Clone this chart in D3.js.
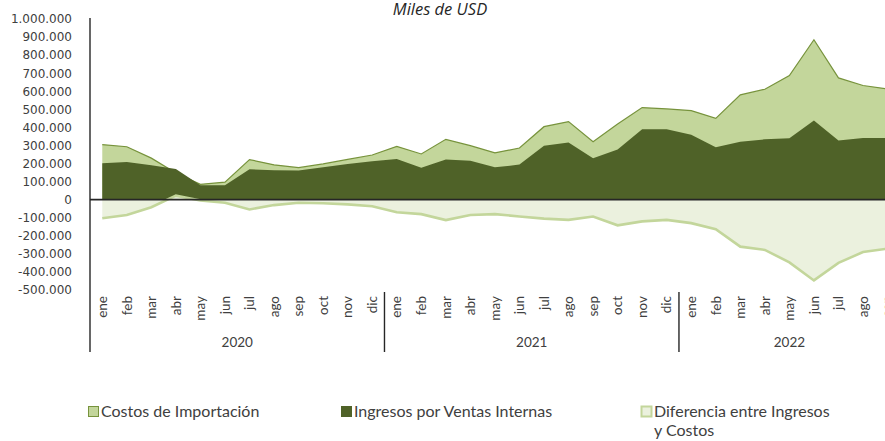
<!DOCTYPE html>
<html><head><meta charset="utf-8">
<script src="https://cdn.jsdelivr.net/npm/d3@7"></script>
<style>
html,body{margin:0;padding:0;background:#fff;overflow:hidden}
svg{display:block}
</style></head>
<body>
<script>
const months = ["ene","feb","mar","abr","may","jun","jul","ago","sep","oct","nov","dic",
  "ene","feb","mar","abr","may","jun","jul","ago","sep","oct","nov","dic",
  "ene","feb","mar","abr","may","jun","jul","ago","sep"];
const years = [{label:"2020", n:12},{label:"2021", n:12},{label:"2022", n:9}];
const costos = [305000,293000,230000,148000,85000,97000,222000,193000,177000,198000,223000,247000,
  295000,253000,334000,299000,259000,286000,404000,432000,321000,419000,510000,502000,
  493000,450000,580000,611000,687000,885000,674000,632000,613000];
const ingresos = [202000,208000,190000,170000,80000,80000,168000,163000,161000,179000,198000,212000,
  225000,176000,222000,216000,179000,194000,299000,317000,229000,277000,390000,390000,
  360000,290000,321000,334000,340000,438000,327000,342000,342000];
const diferencia = [-103000,-85000,-42000,22000,-5000,-17000,-54000,-30000,-17000,-20000,-26000,-36000,
  -70000,-80000,-113000,-85000,-80000,-93000,-105000,-112000,-93000,-142000,-120000,-112000,
  -130000,-163000,-260000,-278000,-347000,-447000,-350000,-290000,-271000];
const yTicks = [1000000,900000,800000,700000,600000,500000,400000,300000,200000,100000,0,
  -100000,-200000,-300000,-400000,-500000];
const seriesNames = ["Costos de Importación","Ingresos por Ventas Internas","Diferencia entre Ingresos y Costos"];
const title = "Miles de USD";

const W = 885, H = 441;
const svg = d3.select("body").append("svg").attr("width", W).attr("height", H);

const x0 = 90, bandW = 24.54;
const x = d3.scaleBand().domain(d3.range(months.length)).range([x0, x0 + bandW*months.length]).padding(0);
const y = d3.scaleLinear().domain([-500000, 1000000]).range([290, 19]);
const cx = i => x(i) + x.bandwidth()/2;

const loc = d3.formatLocale({decimal:",", thousands:".", grouping:[3], currency:["$",""], minus:"-"});
const fmt = loc.format(",d");

// title
svg.append("text").attr("x", 440).attr("y", 15).attr("text-anchor","middle")
  .attr("font-family","Open Sans").attr("font-style","italic").attr("font-size", 16.5)
  .attr("fill","#262626").text(title);

// areas
const areaGen = vals => d3.area().x((d,i)=>cx(i)).y0(y(0)).y1(d=>y(d))(vals);
const lineGen = vals => d3.line().x((d,i)=>cx(i)).y(d=>y(d))(vals);

svg.append("path").attr("d", areaGen(costos)).attr("fill","#c3d69b");
svg.append("path").attr("d", lineGen(costos)).attr("fill","none").attr("stroke","#77933c").attr("stroke-width",1.2);
svg.append("path").attr("d", areaGen(ingresos)).attr("fill","#4f6228");
svg.append("path").attr("d", areaGen(diferencia)).attr("fill","#ebf1de");
svg.append("path").attr("d", lineGen(diferencia)).attr("fill","none").attr("stroke","#c3d69b").attr("stroke-width",2.6);

// y axis labels
const yAxis = d3.axisLeft(y).tickValues(yTicks).tickFormat(fmt).tickSize(0).tickPadding(0);
const ga = svg.append("g").attr("transform", "translate(72,0)").call(yAxis);
ga.select(".domain").remove();
ga.selectAll("text").attr("font-family","DejaVu Sans").attr("font-size",12).attr("fill","#404040");

// zero line
svg.append("line").attr("x1", x0).attr("x2", x0 + bandW*months.length).attr("y1", y(0)).attr("y2", y(0))
  .attr("stroke","#262626").attr("stroke-width",1.6);
// vertical axis line
svg.append("line").attr("x1", x0).attr("x2", x0).attr("y1", 18).attr("y2", 352)
  .attr("stroke","#262626").attr("stroke-width",1.4);

// month labels
const xAxis = d3.axisBottom(x).tickFormat(i => months[i]).tickSize(0).tickPadding(0);
const gx = svg.append("g").attr("transform","translate(0,296)").call(xAxis);
gx.select(".domain").remove();
gx.selectAll("text").attr("transform","rotate(-90)").attr("text-anchor","end")
  .attr("x",0).attr("y",0).attr("dx",0).attr("dy","0.35em")
  .attr("font-family","Lato").attr("font-size",13.5).attr("fill","#404040");

// year groups
let start = 0;
years.forEach((yr, k) => {
  const xs = x(start), xe = x0 + bandW*(start + yr.n);
  if (k > 0) svg.append("line").attr("x1", xs).attr("x2", xs).attr("y1", 292).attr("y2", 352)
    .attr("stroke","#262626").attr("stroke-width",1.4);
  svg.append("text").attr("x",(xs+xe)/2).attr("y",347).attr("text-anchor","middle")
    .attr("font-family","Lato").attr("font-size",13.5).attr("fill","#404040").text(yr.label);
  start += yr.n;
});

// legend
const leg = [
  {x:88, fill:"#c3d69b", stroke:"#77933c", sw:1, lines:[seriesNames[0]]},
  {x:341, fill:"#4f6228", stroke:"#4f6228", sw:1, lines:[seriesNames[1]]},
  {x:641, fill:"#ebf1de", stroke:"#c3d69b", sw:2, lines:["Diferencia entre Ingresos","y Costos"]}
];
leg.forEach(l => {
  svg.append("rect").attr("x", l.x+0.5).attr("y", 406.5).attr("width", 10).attr("height", 10)
    .attr("fill", l.fill).attr("stroke", l.stroke).attr("stroke-width", l.sw);
  l.lines.forEach((t,j) => {
    svg.append("text").attr("x", l.x+13).attr("y", 417 + j*19)
      .attr("font-family","Lato").attr("font-size",16).attr("fill","#404040").text(t);
  });
});
</script>
</body></html>
